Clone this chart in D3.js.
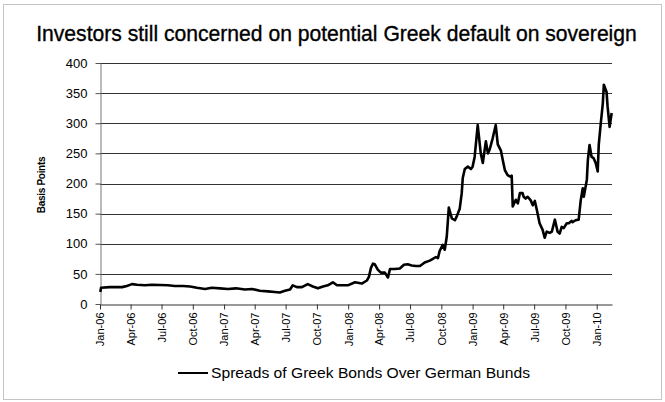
<!DOCTYPE html>
<html>
<head>
<meta charset="utf-8">
<script src="https://cdn.jsdelivr.net/npm/d3@7"></script>
<style>
  body { margin: 0; background: #fff; }
  text { font-family: "Liberation Sans", Arial, sans-serif; }
</style>
</head>
<body>
<script>
// spread data
const dates = [
  "2006-01-02","2006-01-04","2006-01-30","2006-03-07","2006-03-21","2006-04-05","2006-04-20","2006-05-13",
  "2006-06-03","2006-06-26","2006-07-20","2006-08-09","2006-09-02","2006-09-23","2006-10-13","2006-11-06",
  "2006-11-26","2006-12-20","2007-01-12","2007-02-05","2007-03-03","2007-03-24","2007-04-16","2007-05-10",
  "2007-05-30","2007-06-14","2007-06-29","2007-07-14","2007-07-22","2007-08-03","2007-08-18","2007-09-04",
  "2007-09-19","2007-10-04","2007-10-19","2007-11-02","2007-11-17","2007-11-29","2007-12-13","2007-12-31",
  "2008-01-21","2008-02-10","2008-02-25","2008-03-02","2008-03-08","2008-03-14","2008-03-19","2008-03-28",
  "2008-04-06","2008-04-18","2008-04-27","2008-05-03","2008-05-17","2008-06-01","2008-06-13","2008-06-24",
  "2008-07-06","2008-07-18","2008-07-30","2008-08-13","2008-08-28","2008-09-06","2008-09-15","2008-09-21",
  "2008-09-26","2008-10-05","2008-10-11","2008-10-17","2008-10-23","2008-11-01","2008-11-10","2008-11-15",
  "2008-11-24","2008-11-30","2008-12-03","2008-12-09","2008-12-18","2008-12-27","2009-01-01","2009-01-07",
  "2009-01-16","2009-01-25","2009-01-31","2009-02-09","2009-02-15","2009-02-20","2009-03-01","2009-03-10",
  "2009-03-16","2009-03-25","2009-03-31","2009-04-06","2009-04-14","2009-04-23","2009-04-26","2009-04-29",
  "2009-05-08","2009-05-14","2009-05-20","2009-05-28","2009-05-31","2009-06-06","2009-06-12","2009-06-21",
  "2009-06-27","2009-07-03","2009-07-09","2009-07-17","2009-07-26","2009-08-01","2009-08-07","2009-08-16",
  "2009-08-22","2009-08-31","2009-09-08","2009-09-14","2009-09-20","2009-09-26","2009-10-05","2009-10-11",
  "2009-10-19","2009-10-22","2009-10-31","2009-11-09","2009-11-15","2009-11-21","2009-11-24","2009-12-03",
  "2009-12-06","2009-12-11","2009-12-17","2009-12-23","2009-12-29","2010-01-04","2010-01-07","2010-01-13",
  "2010-01-19","2010-01-22","2010-01-30","2010-02-02","2010-02-08","2010-02-14"
];
const spreads = [
  20, 27, 28, 28, 30, 33, 32, 31,
  32, 31.5, 31, 30, 30, 29, 27, 25,
  27, 26, 25, 26, 24, 25, 22, 21,
  20, 19, 22, 24, 31, 28, 28, 33,
  29, 26, 29, 31, 36, 31, 31, 31,
  36, 34, 39, 45, 60, 67, 66, 57,
  52, 52, 44, 58, 58, 59, 65, 66,
  64, 63, 63, 69, 72, 75, 78, 76,
  88, 98, 90, 112, 160, 142, 139, 145,
  158, 184, 209, 224, 228, 224, 228, 244,
  297, 250, 234, 270, 250, 256, 275, 297,
  265, 255, 238, 222, 214, 211, 213, 162,
  173, 167, 184, 184, 178, 175, 178, 172,
  164, 171, 156, 134, 123, 110, 120, 118,
  120, 140, 120, 117, 128, 126, 134, 134,
  138, 136, 139, 140, 172, 192, 178, 206,
  239, 264, 244, 242, 234, 220, 264, 300,
  333, 364, 352, 328, 294, 317
];
const yTicks = [0, 50, 100, 150, 200, 250, 300, 350, 400];
const xTickLabels = ["Jan-06","Apr-06","Jul-06","Oct-06","Jan-07","Apr-07","Jul-07","Oct-07",
  "Jan-08","Apr-08","Jul-08","Oct-08","Jan-09","Apr-09","Jul-09","Oct-09","Jan-10"];

const titleText = "Investors still concerned on potential Greek default on sovereign";
const yLabel = "Basis Points";
const legendText = "Spreads of Greek Bonds Over German Bunds";

makeChart();

function makeChart() {
    const parseDay = d3.timeParse("%Y-%m-%d");
    const parseTick = d3.timeParse("%b-%y");
    const points = dates.map((d, i) => ({ date: parseDay(d), value: spreads[i] }));
    const tickDates = xTickLabels.map(parseTick);

    const svg = d3.select("body").append("svg").attr("width", 665).attr("height", 402);

    //dotted frame round the whole chart
    svg.append("rect").attr("x", 3.5).attr("y", 4.5).attr("width", 658).attr("height", 395)
        .attr("fill", "none").attr("stroke", "#888").attr("stroke-dasharray", "1,1");

    //title, squeezed horizontally to the width it has in the reference
    const title = svg.append("text").attr("text-anchor", "middle")
        .style("font-family", "'Liberation Sans Narrow', 'Arial Narrow', 'Liberation Sans', sans-serif")
        .attr("font-size", 22).attr("stroke", "#000").attr("stroke-width", 0.35)
        .text(titleText);
    const natural = title.node().getComputedTextLength();
    title.attr("transform", "translate(336.5,41) scale(" + (601 / natural) + ",1)");

    const x = d3.scaleTime().domain([new Date(2006, 0, 1), new Date(2010, 1, 15)]).range([100, 612]);
    const y = d3.scaleLinear().domain([0, 400]).range([304, 63]);

    //horizontal grid
    svg.append("g").selectAll("line").data(yTicks.filter(v => v > 0)).join("line")
        .attr("x1", 100).attr("x2", 612)
        .attr("y1", d => Math.round(y(d)) + 0.5).attr("y2", d => Math.round(y(d)) + 0.5)
        .attr("stroke", "#333").attr("stroke-width", 1);

    //y axis
    const yAxis = svg.append("g").attr("transform", "translate(100.5,0)")
        .call(d3.axisLeft(y).tickValues(yTicks).tickSize(5).tickPadding(8).tickSizeOuter(0));
    yAxis.select(".domain").attr("stroke", "#777");
    yAxis.selectAll(".tick line").attr("stroke", "#555");
    yAxis.selectAll("text").attr("font-size", 13).attr("fill", "#000");

    //x axis with rotated labels
    const xAxis = svg.append("g").attr("transform", "translate(0,304.5)")
        .call(d3.axisBottom(x).tickValues(tickDates).tickFormat(d3.timeFormat("%b-%y")).tickSize(5).tickSizeOuter(0));
    xAxis.select(".domain").attr("stroke", "#333");
    xAxis.selectAll(".tick line").attr("stroke", "#333");
    xAxis.selectAll("text")
        .attr("font-size", 11).attr("fill", "#000")
        .attr("text-anchor", "end")
        .attr("x", -8).attr("y", 0).attr("dy", "0.35em")
        .attr("transform", "rotate(-90)");

    //y axis title
    svg.append("text").attr("transform", "translate(45,185) rotate(-90)")
        .attr("text-anchor", "middle").attr("font-size", 10).attr("font-weight", "bold")
        .attr("letter-spacing", -0.3)
        .text(yLabel);

    //spread line
    const line = d3.line().x(d => x(d.date)).y(d => y(d.value));
    svg.append("path").datum(points).attr("d", line)
        .attr("fill", "none").attr("stroke", "#000").attr("stroke-width", 2.6)
        .attr("stroke-linejoin", "round");

    //legend
    svg.append("line").attr("x1", 178).attr("x2", 208).attr("y1", 373).attr("y2", 373)
        .attr("stroke", "#000").attr("stroke-width", 2);
    svg.append("text").attr("x", 211).attr("y", 377.5).attr("font-size", 14)
        .attr("textLength", 319).attr("lengthAdjust", "spacingAndGlyphs")
        .text(legendText);
}
</script>
</body>
</html>
